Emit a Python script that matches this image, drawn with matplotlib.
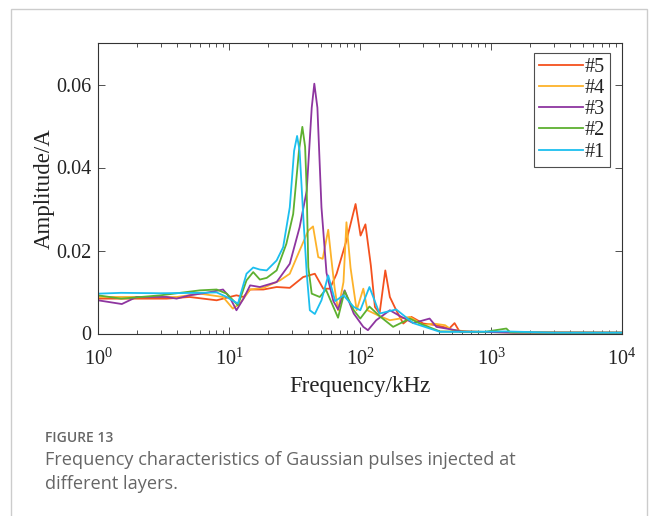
import numpy as np
import matplotlib.pyplot as plt
from matplotlib.patches import Rectangle
from matplotlib.ticker import LogLocator, NullFormatter

plt.rcParams['font.family'] = ['Liberation Serif', 'DejaVu Serif']
plt.rcParams['mathtext.fontset'] = 'stix'

# frequency (kHz) and amplitude (A)
f1 = [1.0, 1.5, 3, 6, 8.05, 9.6, 11.7, 13.6, 15.3, 17.2, 19.4, 23.1, 25.9, 29.1, 31.4, 33.1,
      34.6, 36.8, 39.2, 41.4, 45.2, 50.8, 57.2, 64.6, 74.8, 89.6, 100.5, 118, 141, 189, 255,
      408, 700, 1300, 3000, 10000]
a1 = [0.0096, 0.0098, 0.0097, 0.0098, 0.0099, 0.0088, 0.0072, 0.0144, 0.0159, 0.0154, 0.0152,
      0.0176, 0.0208, 0.0304, 0.044, 0.0476, 0.044, 0.0288, 0.0145, 0.0056, 0.0047, 0.008,
      0.014, 0.0078, 0.0092, 0.0064, 0.0056, 0.0112, 0.0048, 0.0058, 0.0025, 0.0004, 0.0004,
      0.0005, 0.0002, 0.0002]

f2 = [1.0, 1.5, 3, 6, 8.05, 9.6, 11.7, 13.6, 15.3, 17.2, 19.4, 23.1, 27.4, 30.9, 34.2, 36.3,
      38.1, 39.2, 40.3, 42.8, 49.3, 54.9, 68, 76.3, 89.6, 100.5, 118, 141, 179, 240, 287,
      408, 900, 1310, 1400, 3000, 10000]
a2 = [0.0092, 0.0084, 0.0092, 0.0104, 0.0106, 0.0096, 0.0068, 0.0128, 0.0148, 0.013, 0.0134,
      0.0152, 0.0216, 0.0288, 0.044, 0.0498, 0.045, 0.0344, 0.016, 0.0096, 0.0088, 0.0106,
      0.0038, 0.0102, 0.0056, 0.0036, 0.0065, 0.0042, 0.0016, 0.0036, 0.0024, 0.0005, 0.0004,
      0.0012, 0.0003, 0.0002, 0.0002]

f3 = [1.0, 1.52, 1.97, 3.34, 3.98, 5.0, 6.7, 9.0, 10.1, 11.4, 12.9, 14.5, 17.2, 23.1, 29.1,
      34.6, 39.2, 42.8, 44.8, 47.3, 50.8, 55.5, 62.6, 68, 76.3, 89.6, 106, 115, 133, 169, 202,
      255, 340, 383, 515, 600, 1500, 10000]
a3 = [0.008, 0.0071, 0.0088, 0.0088, 0.0084, 0.0092, 0.0098, 0.0106, 0.0088, 0.0056, 0.0084,
      0.0116, 0.0112, 0.0124, 0.0168, 0.0256, 0.0344, 0.0544, 0.0602, 0.0544, 0.0304, 0.0146,
      0.0078, 0.0058, 0.0104, 0.0048, 0.0016, 0.0008, 0.0032, 0.0056, 0.0042, 0.0025, 0.0036,
      0.0016, 0.0009, 0.0005, 0.0002, 0.0002]

f4 = [1.0, 2, 4, 6, 9.0, 10.7, 12.1, 14.5, 18.3, 24.5, 29.1, 34.6, 40.3, 43.8, 48.0, 51.9,
      57.2, 60.2, 64, 68, 74.8, 78.8, 84.7, 94.3, 106, 114, 141, 169, 240, 304, 362, 446, 500,
      650, 1500, 10000]
a4 = [0.0088, 0.0088, 0.0088, 0.0096, 0.0088, 0.006, 0.0072, 0.0106, 0.011, 0.0128, 0.0144,
      0.02, 0.0248, 0.0258, 0.0184, 0.018, 0.025, 0.0184, 0.011, 0.0056, 0.0124, 0.0268, 0.0158,
      0.0056, 0.0108, 0.0056, 0.0042, 0.0032, 0.004, 0.002, 0.0024, 0.002, 0.0009, 0.0005,
      0.0002, 0.0002]

f5 = [1.0, 2, 3.34, 5, 8.05, 10.1, 11.4, 12.9, 14.5, 18.3, 23.1, 29.1, 36.8, 45.2, 52.4, 58.9,
      66.3, 78.8, 92.5, 101, 110, 121, 130, 141, 156, 169, 189, 214, 247, 304, 383, 480, 527,
      577, 1500, 10000]
a5 = [0.0084, 0.0084, 0.0084, 0.0088, 0.008, 0.0088, 0.0092, 0.0088, 0.0106, 0.0106, 0.0112,
      0.011, 0.0136, 0.0144, 0.0108, 0.0108, 0.0144, 0.0224, 0.0312, 0.0236, 0.0263, 0.0164,
      0.0064, 0.0048, 0.0152, 0.0088, 0.0056, 0.0024, 0.004, 0.0024, 0.002, 0.0012, 0.0025,
      0.0004, 0.0003, 0.0002]

labels = ['#5', '#4', '#3', '#2', '#1']
colors = ['#F4511E', '#FDB22A', '#8E35A0', '#5DB030', '#1CBFEF']

fig = plt.figure(figsize=(6.57, 5.16), dpi=100)
ax = fig.add_axes([98/657, 1 - 333.5/516, 524/657, 290.5/516])

for f, a, lab, c in zip([f5, f4, f3, f2, f1], [a5, a4, a3, a2, a1], labels, colors):
    ax.plot(f, a, color=c, lw=1.3, label=lab)

ax.set_xscale('log')
ax.set_xlim(1, 1e4)
ax.set_ylim(0, 0.07)
ax.set_yticks([0, 0.02, 0.04, 0.06])
ax.set_yticklabels(['0', '0.02', '0.04', '0.06'])
ax.xaxis.set_minor_locator(LogLocator(base=10, subs=np.arange(2, 10), numticks=20))
ax.xaxis.set_minor_formatter(NullFormatter())
ax.tick_params(which='both', direction='in', top=True, right=True, labelsize=14.5,
               width=0.6, color='#333333', labelcolor='#222222')
ax.tick_params(which='major', length=5)
ax.tick_params(which='minor', length=3)
ax.tick_params(axis='x', pad=11)
ax.tick_params(axis='y', pad=5)
for s in ax.spines.values():
    s.set_linewidth(0.8)
    s.set_color('#333333')

ax.set_xlabel('Frequency/kHz', fontsize=16.5, labelpad=4, color='#222222')
ax.set_ylabel('Amplitude/A', fontsize=16.5, labelpad=1, color='#222222')

leg = ax.legend(loc='upper right', fontsize=14.5, frameon=True, fancybox=False,
                edgecolor='#222222', handlelength=2.15, handletextpad=0.1,
                labelspacing=0.1, borderpad=0.25, borderaxespad=0,
                bbox_to_anchor=(0.977, 0.9656))
leg.get_frame().set_linewidth(0.8)
for t in leg.get_texts():
    t.set_color('#222222')

# card frame and caption
fig.add_artist(Rectangle((11/657, -0.1), 636/657, 1.1 - 9/516, transform=fig.transFigure,
                         fill=False, edgecolor='#cccccc', lw=1.0))
fig.text(45/657, 1 - 442/516, 'FIGURE 13', fontsize=10, color='#666666',
         family=['Open Sans', 'DejaVu Sans'], fontweight='semibold')
fig.text(45/657, 1 - 489/516,
         'Frequency characteristics of Gaussian pulses injected at\ndifferent layers.',
         fontsize=13.1, color='#666666', family=['Open Sans', 'DejaVu Sans'],
         linespacing=1.4)

fig.savefig('out.png', dpi=100)
